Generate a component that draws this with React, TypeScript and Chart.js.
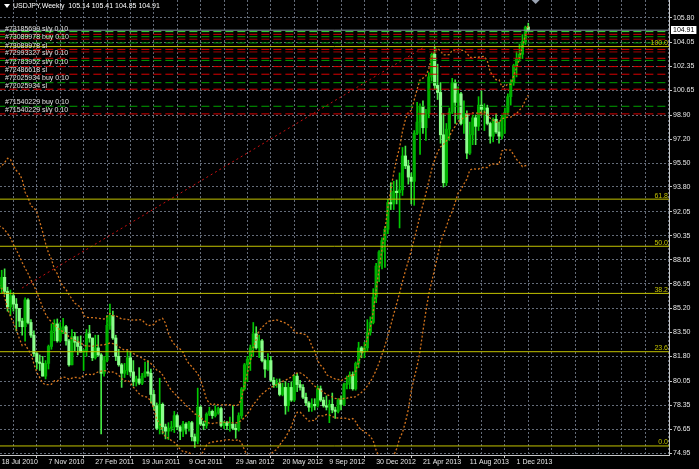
import React, { useEffect, useRef } from "react";
import { Chart, registerables } from "chart.js";

Chart.register(...registerables);

// ---------------- data ----------------
const titleText = "USDJPY,Weekly  105.14 105.41 104.85 104.91";

// x-axis labels, one every 16 weeks starting at week 0 (18 Jul 2010)
const dateLabels = [
  "18 Jul 2010", "7 Nov 2010", "27 Feb 2011", "19 Jun 2011", "9 Oct 2011", "29 Jan 2012",
  "20 May 2012", "9 Sep 2012", "30 Dec 2012", "21 Apr 2013", "11 Aug 2013", "1 Dec 2013",
];

const yTickValues = [
  74.95, 76.65, 78.35, 80.05, 81.8, 83.5, 85.2, 86.95, 88.65, 90.35,
  92.05, 93.8, 95.5, 97.2, 98.9, 100.65, 102.35, 104.05, 105.8,
];

// weekly candles (week 0 = 18 Jul 2010 ... week 180 = 29 Dec 2013)
const opens = [
  86.6, 87.4, 86.4, 85.3, 86.1, 85.5, 85.2, 84.3, 83.9, 85.8,
  84.2, 83.3, 82.0, 81.4, 81.3, 80.4, 81.3, 82.5, 83.6, 84.1,
  82.9, 83.8, 83.9, 82.9, 81.2, 83.2, 82.8, 82.5, 82.1, 82.2,
  83.4, 83.1, 81.7, 82.4, 81.9, 80.6, 81.5, 84.0, 84.7, 83.1,
  81.8, 81.2, 80.6, 80.8, 81.7, 80.7, 80.0, 80.2, 79.9, 80.4,
  80.7, 80.6, 79.1, 78.3, 76.7, 78.4, 76.8, 76.5, 76.7, 76.8,
  77.6, 76.8, 76.5, 77.0, 76.7, 77.1, 76.1, 75.8, 78.2, 77.0,
  76.9, 77.7, 77.9, 77.6, 77.8, 78.1, 76.9, 77.1, 76.9, 77.0,
  76.7, 76.6, 77.6, 79.5, 81.2, 81.6, 82.4, 83.4, 82.4, 82.9,
  81.5, 80.9, 81.5, 80.1, 79.8, 79.9, 79.1, 79.6, 78.3, 79.6,
  78.7, 80.4, 79.8, 79.6, 78.9, 78.5, 78.2, 78.4, 78.3, 79.5,
  78.7, 78.3, 78.2, 78.4, 78.0, 77.9, 78.7, 78.4, 79.8, 79.9,
  80.5, 79.5, 81.3, 82.4, 82.1, 82.4, 83.5, 84.2, 86.0, 88.2,
  89.2, 90.0, 90.8, 92.7, 92.6, 93.5, 93.4, 93.6, 96.0, 95.3,
  94.5, 94.2, 97.6, 98.4, 99.5, 98.0, 99.0, 101.6, 103.2, 101.0,
  100.5, 97.5, 94.1, 97.9, 99.1, 101.2, 99.8, 100.4, 98.3, 99.0,
  96.2, 97.5, 98.7, 98.1, 99.6, 99.3, 99.4, 98.3, 97.4, 98.6,
  97.7, 97.4, 98.7, 99.1, 100.2, 101.2, 102.4, 102.9, 103.2, 104.1,
  105.14,
];
const highs = [
  87.9, 88.0, 86.7, 86.5, 86.3, 85.9, 85.2, 84.5, 85.95, 85.9,
  84.4, 83.6, 82.1, 81.9, 81.8, 81.5, 82.6, 84.1, 84.4, 84.45,
  84.2, 84.5, 84.0, 83.0, 83.7, 83.5, 83.2, 83.25, 82.3, 83.7,
  84.0, 83.1, 83.3, 83.3, 82.0, 81.8, 84.7, 85.5, 85.0, 83.3,
  82.3, 81.3, 81.3, 82.2, 82.1, 81.5, 80.4, 81.0, 80.6, 81.4,
  81.5, 80.9, 79.4, 78.5, 80.25, 78.5, 77.0, 77.1, 77.2, 77.9,
  77.7, 76.9, 77.2, 77.1, 77.2, 77.2, 76.3, 79.55, 78.3, 77.2,
  77.8, 78.2, 78.0, 78.3, 78.2, 78.2, 77.2, 77.2, 77.5, 78.3,
  77.0, 77.8, 79.6, 81.3, 81.8, 82.6, 84.2, 83.9, 83.3, 83.0,
  81.6, 82.0, 81.8, 80.3, 80.2, 80.2, 79.9, 80.0, 79.9, 80.0,
  80.5, 80.6, 80.1, 79.8, 79.2, 78.6, 78.8, 78.8, 79.7, 79.7,
  78.9, 79.0, 78.7, 79.2, 78.2, 78.8, 79.0, 79.9, 80.4, 80.7,
  80.7, 81.4, 82.8, 82.5, 82.8, 84.4, 84.6, 86.6, 88.4, 89.3,
  90.2, 91.0, 92.9, 94.1, 94.2, 94.3, 94.8, 96.6, 96.7, 95.7,
  94.8, 97.8, 99.8, 99.7, 99.9, 99.3, 101.9, 103.3, 103.74, 102.5,
  101.2, 99.0, 98.3, 99.4, 101.5, 101.4, 100.9, 100.5, 99.9, 99.2,
  98.4, 98.9, 98.9, 100.2, 100.6, 99.7, 99.6, 98.4, 98.7, 99.0,
  98.4, 98.9, 99.4, 100.4, 101.4, 102.5, 103.4, 103.9, 104.6, 105.2,
  105.41,
];
const lows = [
  86.3, 86.2, 85.0, 84.7, 85.0, 83.6, 83.9, 83.3, 82.88, 84.1,
  83.15, 81.8, 80.9, 80.8, 80.4, 80.2, 80.9, 82.3, 82.9, 82.8,
  82.8, 83.4, 82.6, 81.1, 81.2, 82.2, 81.9, 82.1, 80.8, 81.8,
  82.8, 81.5, 81.6, 81.8, 76.3, 80.4, 81.4, 83.7, 83.0, 81.5,
  81.1, 79.6, 80.3, 80.5, 80.4, 79.7, 79.7, 79.8, 79.8, 80.3,
  80.4, 78.5, 78.0, 76.6, 76.3, 76.3, 75.95, 75.9, 76.5, 76.4,
  76.6, 75.9, 76.1, 76.3, 76.5, 75.8, 75.35, 75.6, 76.9, 76.6,
  76.7, 77.6, 77.4, 77.5, 77.7, 76.8, 76.7, 76.6, 76.5, 76.6,
  76.0, 76.5, 77.4, 79.4, 80.0, 80.8, 81.8, 82.3, 81.7, 81.4,
  80.3, 80.8, 80.0, 79.6, 79.6, 79.0, 79.0, 77.7, 77.9, 78.6,
  78.6, 79.3, 79.4, 78.8, 78.3, 77.9, 77.9, 78.0, 78.2, 78.6,
  78.2, 78.0, 77.1, 77.8, 77.4, 77.8, 78.0, 78.3, 79.5, 79.5,
  79.4, 79.4, 81.0, 81.7, 81.7, 82.2, 83.3, 84.1, 85.6, 87.1,
  88.0, 88.1, 90.5, 92.2, 92.2, 92.6, 90.9, 93.2, 95.1, 94.0,
  92.6, 92.5, 97.5, 96.1, 97.6, 97.1, 98.7, 101.3, 100.7, 100.0,
  96.9, 93.8, 93.9, 97.1, 99.0, 98.3, 98.6, 98.2, 97.6, 95.8,
  96.1, 96.8, 96.8, 97.8, 98.9, 97.8, 98.2, 96.9, 97.0, 97.6,
  96.9, 97.2, 97.6, 98.9, 99.6, 101.0, 101.6, 102.7, 102.9, 103.9,
  104.85,
];
const closes = [
  87.4, 86.4, 85.3, 86.1, 85.5, 85.2, 84.3, 83.9, 85.8, 84.2,
  83.3, 82.0, 81.4, 81.3, 80.4, 81.3, 82.5, 83.6, 84.1, 82.9,
  83.8, 83.9, 82.9, 81.2, 83.2, 82.8, 82.5, 82.1, 82.2, 83.4,
  83.1, 81.7, 82.4, 81.9, 80.6, 81.5, 84.0, 84.7, 83.1, 81.8,
  81.2, 80.6, 80.8, 81.7, 80.7, 80.0, 80.2, 79.9, 80.4, 80.7,
  80.6, 79.1, 78.3, 76.7, 78.4, 76.8, 76.5, 76.7, 76.8, 77.6,
  76.8, 76.5, 77.0, 76.7, 77.1, 76.1, 75.8, 78.2, 77.0, 76.9,
  77.7, 77.9, 77.6, 77.8, 78.1, 76.9, 77.1, 76.9, 77.0, 76.7,
  76.6, 77.6, 79.5, 81.2, 81.6, 82.4, 83.4, 82.4, 82.9, 81.5,
  80.9, 81.5, 80.1, 79.8, 79.9, 79.1, 79.6, 78.3, 79.6, 78.7,
  80.4, 79.8, 79.6, 78.9, 78.5, 78.2, 78.4, 78.3, 79.5, 78.7,
  78.3, 78.2, 78.4, 78.0, 77.9, 78.7, 78.4, 79.8, 79.9, 80.5,
  79.5, 81.3, 82.4, 82.1, 82.4, 83.5, 84.2, 86.0, 88.2, 89.2,
  90.0, 90.8, 92.7, 92.6, 93.5, 93.4, 93.6, 96.0, 95.3, 94.5,
  94.2, 97.6, 98.4, 99.5, 98.0, 99.0, 101.6, 103.2, 101.0, 100.5,
  97.5, 94.1, 97.9, 99.1, 101.2, 99.8, 100.4, 98.3, 99.0, 96.2,
  97.5, 98.7, 98.1, 99.6, 99.3, 99.4, 98.3, 97.4, 98.6, 97.7,
  97.4, 98.7, 99.1, 100.2, 101.2, 102.4, 102.9, 103.2, 104.1, 105.1,
  104.91,
];
// weekly closes before the first visible bar (21 Feb - 11 Jul 2010), used by the Bollinger bands
const preCloses = [
  89.6, 88.6, 90.5, 90.5, 92.5, 94.6, 93.2, 92.6, 93.1, 94.1,
  91.5, 92.5, 90.0, 90.9, 91.7, 91.5, 90.7, 89.2, 87.7, 88.6, 86.6,
];
const bbPeriod = 20;
const bbDeviation = 2;

// Fibonacci retracement
const fibLow = 75.45;
const fibHigh = 103.75;
const fibRatios = [0, 23.6, 38.2, 50, 61.8, 100];

// trade level lines
const orderLevels = [
  104.81, 104.62, 104.45, 104.27, 104.01, 103.55, 103.37, 102.92,
  102.77, 102.33, 101.79, 101.19, 100.73, 99.52, 98.98,
];
const orderKinds = [
  "lime", "red", "green", "darkred", "green", "red", "darkred", "red",
  "green", "red", "red", "green", "red", "green", "red",
];
const orderLabelTexts = [
  "#73185699 sl/y 0.10", "#73089978 buy 0.10", "#73089978 sl", "#72993327 sl/y 0.10",
  "#72783952 sl/y 0.10", "#72486618 sl", "#72025934 buy 0.10", "#72025934 sl",
  "#71540229 buy 0.10", "#71540229 sl/y 0.10",
];
const orderLabelPrices = [105.0, 104.43, 103.79, 103.3, 102.67, 102.1, 101.53, 100.96, 99.81, 99.26];

const bidPrice = 104.91;

// red trend line (week, price)
const trendWeeks = [6.94, 144.7];
const trendPrices = [86.64, 103.75];

// ---------------- style ----------------
const X_MIN = -0.58;
const X_MAX = 228.1;
const Y_MIN = 74.81;
const Y_MAX = 107.05;
const CHART_SHIFT_WEEK = 182.5;
const FONT_FAMILY = '"Liberation Sans", Arial, sans-serif';
const FONT_SIZE = 7;
const GRID_COLOR = "#646c79";
const AXIS_COLOR = "#c8c8c8";
const TEXT_COLOR = "#e6e6e6";
const FIB_COLOR = "#c2c200";
const BB_COLOR = "#d2731c";
const ORDER_COLORS: Record<string, string> = {
  lime: "#39e639",
  green: "#00a000",
  red: "#d80000",
  darkred: "#a00000",
};

function bollinger() {
  const all = preCloses.concat(closes);
  const up: { x: number; y: number }[] = [];
  const mid: { x: number; y: number }[] = [];
  const lo: { x: number; y: number }[] = [];
  for (let i = bbPeriod - 1; i < all.length; i++) {
    const w = all.slice(i - bbPeriod + 1, i + 1);
    const m = w.reduce((a, b) => a + b, 0) / bbPeriod;
    const sd = Math.sqrt(w.reduce((a, b) => a + (b - m) * (b - m), 0) / bbPeriod);
    const xi = i - preCloses.length;
    up.push({ x: xi, y: m + bbDeviation * sd });
    mid.push({ x: xi, y: m });
    lo.push({ x: xi, y: m - bbDeviation * sd });
  }
  return { up, mid, lo };
}

export default function App() {
  const ref = useRef<HTMLCanvasElement>(null);

  useEffect(() => {
    document.body.style.margin = "0";
    document.body.style.background = "#000";
    const canvas = ref.current;
    if (!canvas) return;

    const bull = closes.map((c, i) => c >= opens[i]);
    const bodies = closes.map((c, i) => ({ x: i, y: [Math.min(opens[i], c), Math.max(opens[i], c)] }));
    const wicks = closes.map((c, i) => ({ x: i, y: [lows[i], highs[i]] }));
    const bb = bollinger();

    const labelMap = new Map<number, string>();
    dateLabels.forEach((l, k) => labelMap.set(k * 16, l));
    const gridWeeks: number[] = [];
    for (let w = 0; w <= X_MAX; w += 8) gridWeeks.push(w);

    const hLine = (p: number) => [
      { x: X_MIN - 5, y: p },
      { x: X_MAX + 5, y: p },
    ];

    const datasets: any[] = [];
    fibRatios.forEach((r) => {
      datasets.push({
        type: "line",
        data: hLine(fibLow + ((fibHigh - fibLow) * r) / 100),
        borderColor: FIB_COLOR,
        borderWidth: 1,
        pointRadius: 0,
        order: 1,
      });
    });
    orderLevels.forEach((p, i) => {
      datasets.push({
        type: "line",
        data: hLine(p),
        borderColor: ORDER_COLORS[orderKinds[i]],
        borderWidth: 1,
        borderDash: [8, 4],
        pointRadius: 0,
        order: 1,
      });
    });
    datasets.push({
      type: "line",
      data: hLine(bidPrice),
      borderColor: "#8a97a8",
      borderWidth: 1,
      pointRadius: 0,
      order: 1,
    });
    datasets.push({
      type: "line",
      data: trendWeeks.map((w, i) => ({ x: w, y: trendPrices[i] })),
      borderColor: "#c81010",
      borderWidth: 1,
      borderDash: [2, 3],
      pointRadius: 0,
      order: 2,
    });
    [bb.up, bb.mid, bb.lo].forEach((d) => {
      datasets.push({
        type: "line",
        data: d,
        borderColor: BB_COLOR,
        borderWidth: 1.3,
        borderDash: [2, 2],
        pointRadius: 0,
        tension: 0,
        order: 3,
      });
    });
    datasets.push({
      type: "bar",
      data: bodies,
      backgroundColor: bull.map((b) => (b ? "#00b000" : "#8cff8c")),
      borderWidth: 0,
      barThickness: 2.5,
      minBarLength: 1,
      grouped: false,
      order: 4,
    });
    datasets.push({
      type: "bar",
      data: wicks,
      backgroundColor: bull.map((b) => (b ? "#00c800" : "#44e844")),
      borderWidth: 0,
      barThickness: 1,
      grouped: false,
      order: 5,
    });

    const font = { family: FONT_FAMILY, size: FONT_SIZE };

    const overlay = {
      id: "overlay",
      afterDatasetsDraw(chart: any) {
        const { ctx, chartArea } = chart;
        const y = chart.scales.y;
        const x = chart.scales.x;
        ctx.save();
        ctx.beginPath();
        ctx.rect(chartArea.left, chartArea.top, chartArea.right - chartArea.left, chartArea.bottom - chartArea.top);
        ctx.clip();
        ctx.font = `${FONT_SIZE}px ${FONT_FAMILY}`;
        ctx.fillStyle = "#e0e0e0";
        ctx.textAlign = "left";
        ctx.textBaseline = "middle";
        orderLabelTexts.forEach((t, i) => {
          ctx.fillText(t, chartArea.left + 5, y.getPixelForValue(orderLabelPrices[i]));
        });
        ctx.fillStyle = FIB_COLOR;
        ctx.textAlign = "right";
        ctx.textBaseline = "alphabetic";
        fibRatios.forEach((r) => {
          const p = fibLow + ((fibHigh - fibLow) * r) / 100;
          ctx.fillText(r.toFixed(1), chartArea.right - 1, y.getPixelForValue(p) - 1.5);
        });
        ctx.fillStyle = "#ffffff";
        ctx.textAlign = "left";
        ctx.textBaseline = "middle";
        ctx.fillText(titleText, chartArea.left + 13, chartArea.top + 6.5);
        ctx.beginPath();
        ctx.moveTo(chartArea.left + 4, chartArea.top + 4);
        ctx.lineTo(chartArea.left + 10, chartArea.top + 4);
        ctx.lineTo(chartArea.left + 7, chartArea.top + 8);
        ctx.closePath();
        ctx.fill();
        const sx = x.getPixelForValue(CHART_SHIFT_WEEK);
        ctx.fillStyle = "#9aa3b2";
        ctx.beginPath();
        ctx.moveTo(sx - 4, chartArea.top);
        ctx.lineTo(sx + 4, chartArea.top);
        ctx.lineTo(sx, chartArea.top + 4);
        ctx.closePath();
        ctx.fill();
        ctx.restore();
      },
      afterDraw(chart: any) {
        const { ctx, chartArea } = chart;
        const y = chart.scales.y;
        const py = Math.round(y.getPixelForValue(bidPrice));
        ctx.save();
        ctx.font = `${FONT_SIZE}px ${FONT_FAMILY}`;
        const txt = bidPrice.toFixed(2);
        const w = ctx.measureText(txt).width + 4;
        ctx.fillStyle = "#ffffff";
        ctx.fillRect(chartArea.right + 2, py - 4, w, 8);
        ctx.fillStyle = "#000000";
        ctx.textAlign = "left";
        ctx.textBaseline = "middle";
        ctx.fillText(txt, chartArea.right + 4, py + 0.5);
        ctx.restore();
      },
    };

    const chart = new Chart(canvas, {
      type: "bar",
      data: { datasets },
      options: {
        responsive: false,
        animation: false,
        events: [],
        layout: { padding: 0 },
        plugins: { legend: { display: false }, tooltip: { enabled: false }, title: { display: false } },
        scales: {
          x: {
            type: "linear",
            position: "bottom",
            min: X_MIN,
            max: X_MAX,
            offset: false,
            afterBuildTicks: (s: any) => {
              s.ticks = gridWeeks.map((v) => ({ value: v }));
            },
            afterFit: (s: any) => {
              s.height = 14;
              s.paddingLeft = 0;
              s.paddingRight = 0;
            },
            ticks: {
              autoSkip: false,
              maxRotation: 0,
              minRotation: 0,
              align: "start",
              padding: 0,
              color: TEXT_COLOR,
              font,
              callback: (v: any) => labelMap.get(Number(v)) ?? "",
            },
            grid: {
              color: GRID_COLOR,
              lineWidth: 1,
              tickLength: 3,
              tickColor: (ctx: any) =>
                ctx.tick && labelMap.has(ctx.tick.value) ? AXIS_COLOR : "rgba(0,0,0,0)",
            },
            border: { display: true, color: AXIS_COLOR, width: 1, dash: [2, 2] },
          },
          y: {
            type: "linear",
            position: "right",
            min: Y_MIN,
            max: Y_MAX,
            afterBuildTicks: (s: any) => {
              s.ticks = yTickValues.map((v) => ({ value: v }));
            },
            afterFit: (s: any) => {
              s.width = 30;
              s.paddingTop = 0;
              s.paddingBottom = 0;
            },
            ticks: {
              padding: 1,
              color: TEXT_COLOR,
              font,
              callback: (v: any) => Number(v).toFixed(2),
            },
            grid: {
              color: GRID_COLOR,
              lineWidth: 1,
              tickLength: 3,
              tickColor: AXIS_COLOR,
            },
            border: { display: true, color: AXIS_COLOR, width: 1, dash: [2, 2] },
          },
        },
      } as any,
      plugins: [overlay],
    });

    return () => chart.destroy();
  }, []);

  return (
    <canvas
      ref={ref}
      width={699}
      height={469}
      style={{ display: "block", width: 699, height: 469, background: "#000" }}
    />
  );
}
